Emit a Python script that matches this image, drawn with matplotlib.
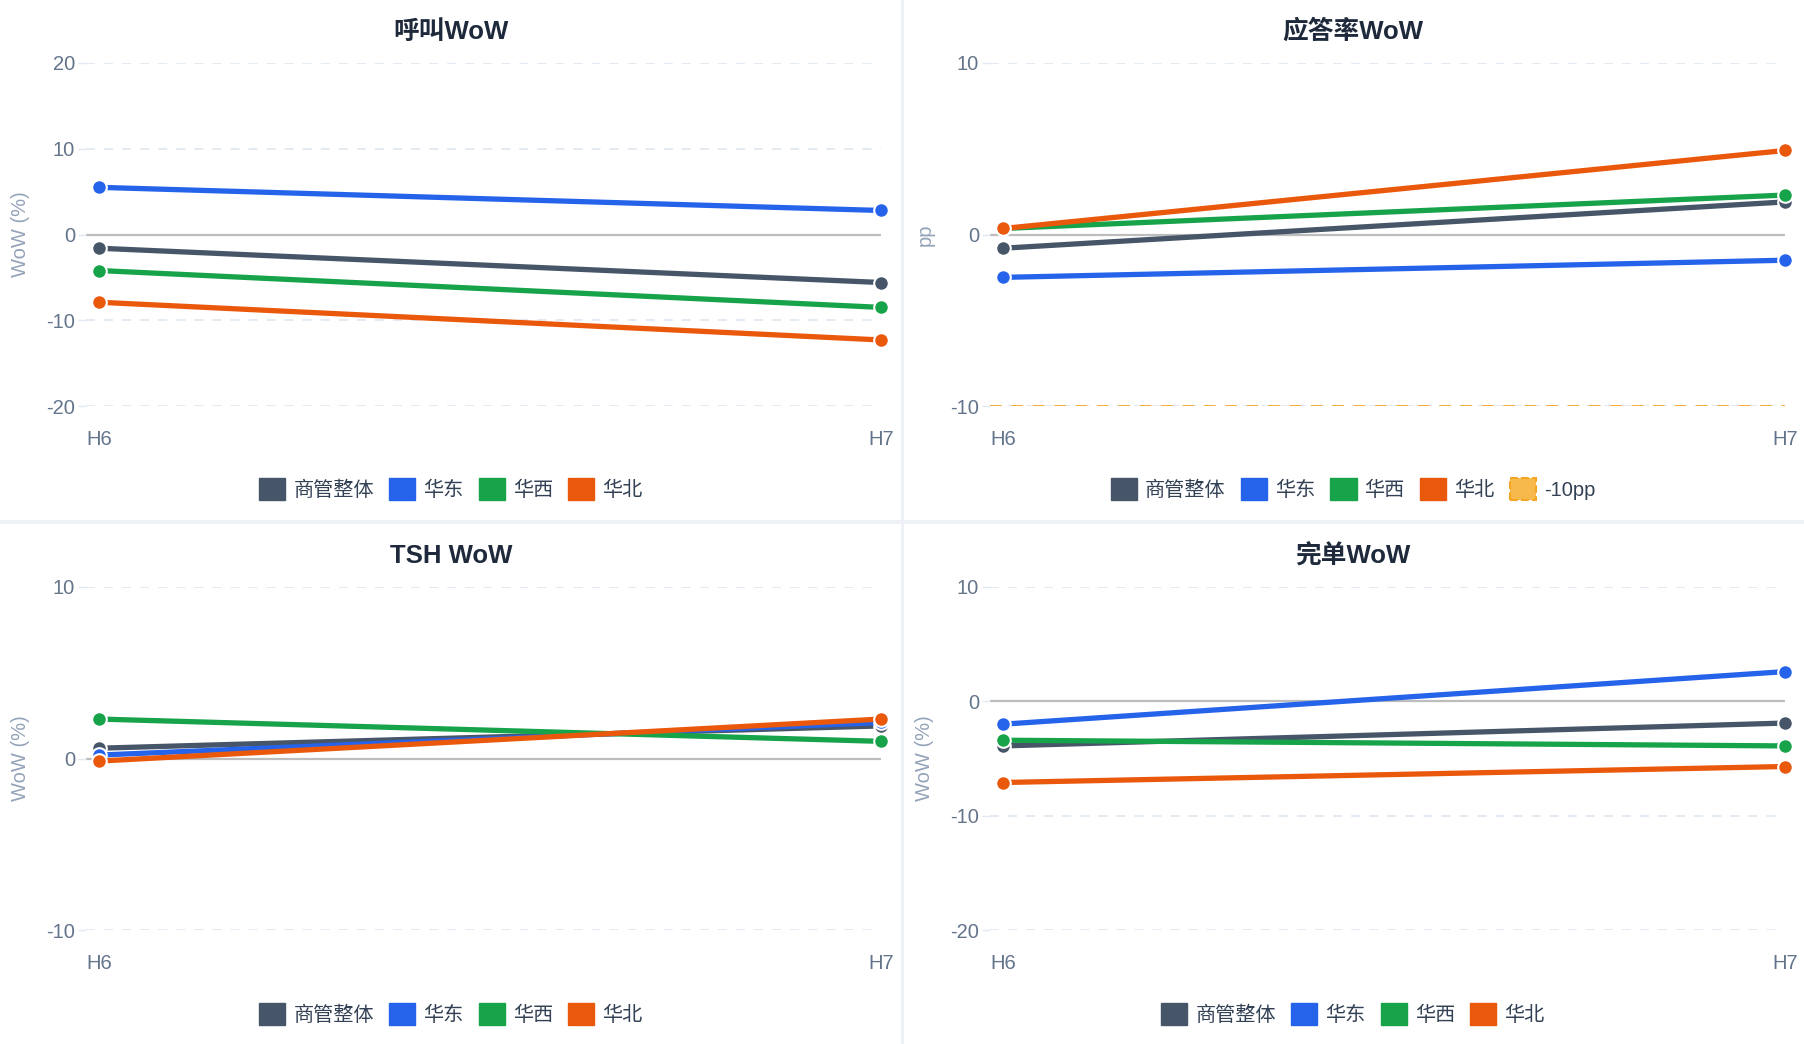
import matplotlib
matplotlib.use("Agg")
import matplotlib.pyplot as plt
from matplotlib.patches import Patch, Rectangle

plt.rcParams['font.family'] = ['Liberation Sans', 'Noto Sans CJK SC', 'DejaVu Sans']
plt.rcParams['axes.unicode_minus'] = False

# data
periods = ["H6", "H7"]
series_names = ["商管整体", "华东", "华西", "华北"]
colors = ["#475569", "#2563eb", "#16a34a", "#ea580c"]

call_wow = [[-1.6, -5.6], [5.5, 2.8], [-4.2, -8.5], [-7.9, -12.3]]
answer_wow = [[-0.8, 1.9], [-2.5, -1.5], [0.35, 2.3], [0.35, 4.9]]
tsh_wow = [[0.6, 1.9], [0.2, 2.1], [2.3, 1.0], [-0.15, 2.3]]
order_wow = [[-3.9, -1.9], [-2.0, 2.6], [-3.4, -3.9], [-7.1, -5.7]]

titles = ["呼叫WoW", "应答率WoW", "TSH WoW", "完单WoW"]
ylabels = ["WoW (%)", "pp", "WoW (%)", "WoW (%)"]
ylims = [(-20, 20), (-10, 10), (-10, 10), (-20, 10)]
yticks = [[-20, -10, 0, 10, 20], [-10, 0, 10], [-10, 0, 10], [-20, -10, 0, 10]]
threshold_pp = -10

W, H = 1804, 1044
fig = plt.figure(figsize=(W / 100, H / 100), dpi=100)
fig.patch.set_facecolor("#eef2f7")

# white cards
for (x0, y0, w, h) in [(0, 0, 901, 520), (904, 0, 900, 520), (0, 524, 901, 520), (904, 524, 900, 520)]:
    fig.patches.append(Rectangle((x0 / W, 1 - (y0 + h) / H), w / W, h / H,
                                 transform=fig.transFigure, facecolor="white",
                                 edgecolor="none", zorder=-10))

ax_rects = [(86, 63), (990, 63), (86, 587), (990, 587)]
ax_w, ax_h = 795, 343
panel_cx = [451, 1353, 451, 1353]
title_y = [32, 32, 556, 556]
legend_y = [489, 489, 1014, 1014]
ylabel_x = [21, 925, 21, 925]

all_data = [call_wow, answer_wow, tsh_wow, order_wow]

for i in range(4):
    lx, ty = ax_rects[i]
    ax = fig.add_axes([lx / W, 1 - (ty + ax_h) / H, ax_w / W, ax_h / H])
    ax.set_facecolor("none")
    for s in ax.spines.values():
        s.set_visible(False)
    ax.set_ylim(*ylims[i])
    ax.set_xlim(-0.0166, 1.0)
    ax.set_yticks(yticks[i])
    ax.set_xticks([0, 1])
    ax.set_xticklabels(periods)
    ax.tick_params(axis='y', colors="#64748b", labelsize=14.5, length=6, width=1, pad=2,
                   color="#e2e8f0")
    ax.tick_params(axis='x', colors="#64748b", labelsize=14.5, length=0, pad=17)
    for t in yticks[i]:
        if t != 0:
            ax.axhline(t, color="#e2e8f0", lw=1.3, ls=(0, (5, 5)), zorder=1)
    ax.axhline(0, color="#bdbdbd", lw=1.6, zorder=1)
    if i == 1:
        ax.axhline(threshold_pp, color="#f5a524", lw=1.4, ls=(0, (6, 5)), alpha=0.9, zorder=2)

    for name, col, vals in zip(series_names, colors, all_data[i]):
        ax.plot([0, 1], vals, color=col, lw=3.8, marker="o", markersize=10.5,
                markeredgecolor="white", markeredgewidth=1.5, clip_on=False,
                solid_capstyle="butt", zorder=3)

    fig.text(ylabel_x[i] / W, 1 - (ty + ax_h / 2) / H, ylabels[i], rotation=90,
             ha="center", va="center", color="#94a3b8", fontsize=14.5)
    fig.text(panel_cx[i] / W, 1 - title_y[i] / H, titles[i], ha="center", va="center",
             fontsize=18.5, fontweight="bold", color="#1e293b")

    handles = [Patch(facecolor=c, edgecolor=c, label=n) for n, c in zip(series_names, colors)]
    if i == 1:
        handles.append(Patch(facecolor="#f8b94c", edgecolor="#f5a524", linestyle="--",
                             linewidth=1.5, label="-10pp"))
    leg = fig.legend(handles=handles, loc="center", ncol=len(handles),
                     bbox_to_anchor=(panel_cx[i] / W, 1 - legend_y[i] / H),
                     frameon=False, fontsize=14.5, handlelength=1.3, handleheight=1.3,
                     handletextpad=0.4, columnspacing=0.75, borderaxespad=0)
    for t in leg.get_texts():
        t.set_color("#334155")

fig.savefig("out.png", dpi=100, facecolor=fig.get_facecolor())
